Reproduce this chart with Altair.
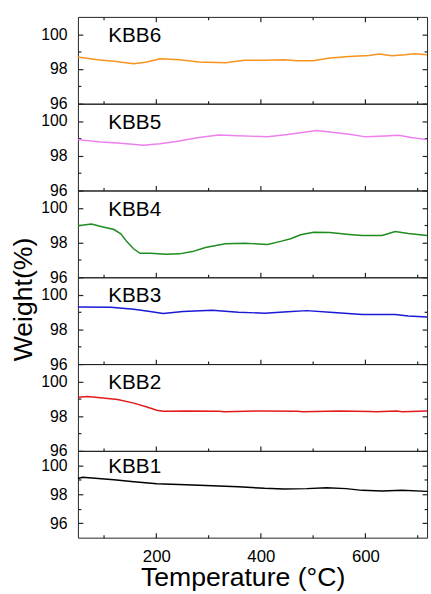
import altair as alt
import pandas as pd

# ---------------- data ----------------
T_MIN, T_MAX = 50, 718

names = ["KBB6", "KBB5", "KBB4", "KBB3", "KBB2", "KBB1"]
colors = ["#F7931E", "#EE7FEE", "#1E8C1E", "#1A1AD6", "#E41A1C", "#000000"]

kbb6_t = [50, 87, 119, 157, 182, 207, 244, 282, 332, 369, 407, 444, 469, 500, 532, 569, 607, 626, 651, 676, 694, 718]
kbb6_w = [98.69, 98.53, 98.44, 98.30, 98.40, 98.59, 98.53, 98.40, 98.36, 98.50, 98.51, 98.53, 98.48, 98.48,
          98.63, 98.72, 98.78, 98.86, 98.76, 98.82, 98.88, 98.82]

kbb5_t = [50, 94, 126, 176, 207, 238, 282, 319, 357, 413, 451, 507, 532, 569, 601, 638, 663, 688, 718]
kbb5_w = [98.93, 98.80, 98.74, 98.61, 98.69, 98.82, 99.05, 99.20, 99.16, 99.09, 99.22, 99.45, 99.37, 99.24,
          99.09, 99.14, 99.18, 99.05, 98.93]

kbb4_t = [50, 76, 94, 119, 132, 144, 157, 169, 188, 219, 244, 269, 294, 332, 369, 413, 438, 457, 476, 501,
          532, 569, 594, 632, 657, 682, 718]
kbb4_w = [98.97, 99.07, 98.93, 98.75, 98.50, 98.04, 97.63, 97.38, 97.38, 97.33, 97.35, 97.48, 97.72, 97.93,
          97.96, 97.89, 98.07, 98.22, 98.45, 98.60, 98.58, 98.47, 98.41, 98.41, 98.64, 98.52, 98.41]

kbb3_t = [50, 113, 157, 188, 213, 251, 307, 357, 407, 451, 488, 532, 594, 657, 682, 718]
kbb3_w = [99.29, 99.27, 99.16, 99.03, 98.92, 99.03, 99.10, 98.99, 98.93, 99.01, 99.08, 98.99, 98.86, 98.86,
          98.77, 98.71]

kbb2_t = [50, 69, 126, 157, 182, 201, 213, 260, 320, 330, 400, 470, 480, 550, 610, 620, 660, 670, 718]
kbb2_w = [99.09, 99.13, 98.96, 98.75, 98.53, 98.34, 98.28, 98.30, 98.28, 98.26, 98.30, 98.28, 98.25, 98.30,
          98.27, 98.25, 98.30, 98.26, 98.30]

kbb1_t = [50, 59, 119, 157, 201, 257, 307, 357, 407, 444, 488, 526, 563, 594, 632, 670, 718]
kbb1_w = [99.09, 99.18, 99.00, 98.86, 98.73, 98.66, 98.59, 98.52, 98.41, 98.36, 98.39, 98.45, 98.39, 98.27,
          98.23, 98.27, 98.20]

series = [(kbb6_t, kbb6_w), (kbb5_t, kbb5_w), (kbb4_t, kbb4_w),
          (kbb3_t, kbb3_w), (kbb2_t, kbb2_w), (kbb1_t, kbb1_w)]
y_lows = [96, 96, 96, 96, 96, 95]
y_high = 101

x_major = [200, 400, 600]
x_minor = [100, 300, 500, 700]
y_major = [96, 98, 100]
y_minor = [97, 99]

x_title = "Temperature (°C)"
y_title = "Weight(%)"

# ---------------- style ----------------
FONT = "Liberation Sans"
FRAME = "#222222"
W, H = 354, 88


def tick_axis(orient, values, size):
    # inward ticks: the axis is pushed inside the plot by its own tick length
    return alt.Axis(orient=orient, values=values, tickSize=size, offset={"expr": str(-size)},
                    labels=False, domain=False, grid=False, title=None,
                    tickColor=FRAME, tickWidth=1.2)


def panel(i):
    temps, weights = series[i]
    df = pd.DataFrame({"T": temps, "W": weights})
    is_top = i == 0
    is_bottom = i == len(series) - 1
    xs = alt.Scale(domain=[T_MIN, T_MAX], nice=False, zero=False)
    ys = alt.Scale(domain=[y_lows[i], y_high], nice=False, zero=False)

    y_axis_kw = dict(orient="left", values=y_major, ticks=False, labelFontSize=16, labelFont=FONT,
                     labelPadding=11, domain=False, grid=False, labelColor="black")
    if i == 3:
        y_axis_kw.update(title=y_title, titleFont=FONT, titleFontSize=27, titleFontWeight="normal",
                         titleAngle=270, titleX=-47, titleY=22, titleAlign="center",
                         titleBaseline="alphabetic", titleColor="black")
    else:
        y_axis_kw.update(title=None)
    x_axis_kw = dict(orient="bottom", values=x_major, ticks=False, labels=is_bottom,
                     labelFontSize=17, labelFont=FONT, labelPadding=11, domain=False, grid=False,
                     labelColor="black")
    if is_bottom:
        x_axis_kw.update(title=x_title, titleFont=FONT, titleFontSize=27, titleFontWeight="normal",
                         titlePadding=1, titleX=167, titleAlign="center", titleColor="black")
    else:
        x_axis_kw.update(title=None)

    line = alt.Chart(df).mark_line(color=colors[i], strokeWidth=1.5).encode(
        x=alt.X("T:Q", scale=xs, axis=alt.Axis(**x_axis_kw)),
        y=alt.Y("W:Q", scale=ys, axis=alt.Axis(**y_axis_kw)),
    )
    ghost = alt.Chart(df).mark_line(strokeOpacity=0)
    left_major = ghost.encode(
        x=alt.X("T:Q", scale=xs, axis=tick_axis("bottom", x_major, 5)),
        y=alt.Y("W:Q", scale=ys, axis=tick_axis("left", y_major, 5)),
    )
    left_minor = ghost.encode(
        x=alt.X("T:Q", scale=xs, axis=tick_axis("bottom", x_minor, 3)),
        y=alt.Y("W:Q", scale=ys, axis=tick_axis("left", y_minor, 3)),
    )
    right_major = ghost.encode(
        x=alt.X("T:Q", scale=xs, axis=tick_axis("top", x_major, 5) if is_top else None),
        y=alt.Y("W:Q", scale=ys, axis=tick_axis("right", y_major, 5)),
    )
    right_minor = ghost.encode(
        x=alt.X("T:Q", scale=xs, axis=tick_axis("top", x_minor, 3) if is_top else None),
        y=alt.Y("W:Q", scale=ys, axis=tick_axis("right", y_minor, 3)),
    )
    label = alt.Chart(pd.DataFrame({"name": [names[i]]})).mark_text(
        align="left", baseline="middle", font=FONT, fontSize=21, color="black"
    ).encode(
        x=alt.XDatum(108, type="quantitative", scale=xs, axis=None),
        y=alt.YDatum(99.9, type="quantitative", scale=ys, axis=None),
        text="name:N",
    )
    return alt.layer(line, left_major, left_minor, right_major, right_minor, label).resolve_axis(
        x="independent", y="independent"
    ).properties(width=W, height=H)


chart = alt.vconcat(*[panel(i) for i in range(len(series))], spacing=0, bounds="flush").properties(
    padding={"left": 9, "top": 11, "right": 0, "bottom": 0},
    background="white",
).configure_view(stroke=FRAME, strokeWidth=1)

chart.save("out.html", embed_options={"renderer": "svg", "actions": False})
